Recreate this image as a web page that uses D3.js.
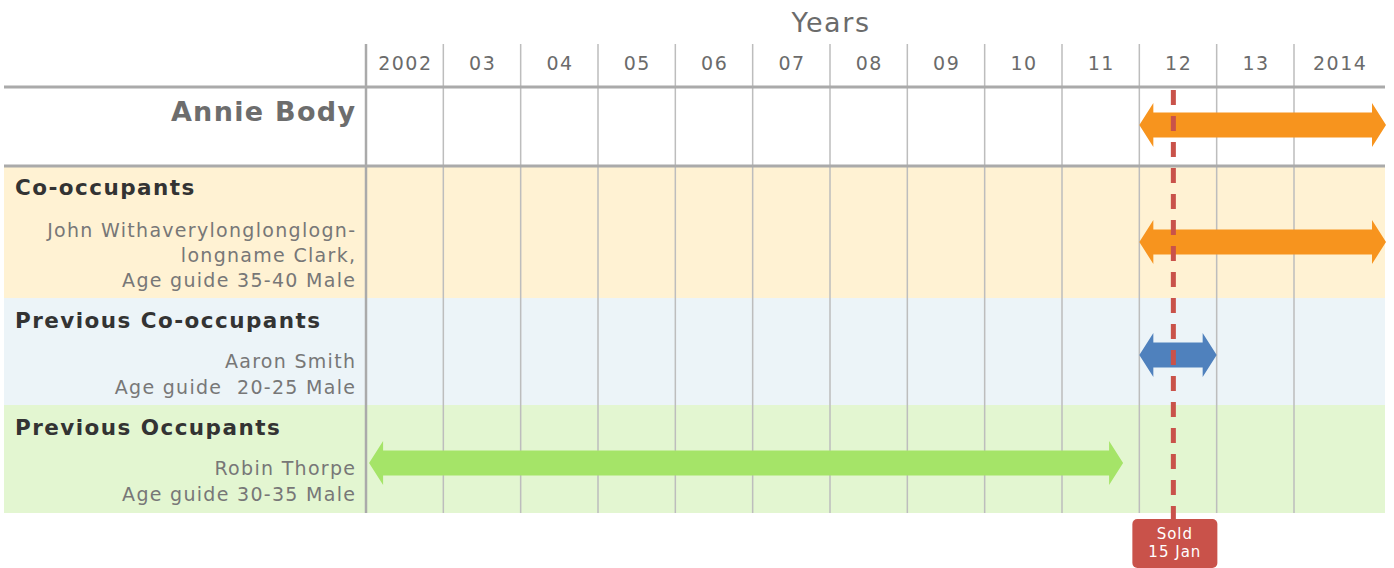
<!DOCTYPE html>
<html>
<head>
<meta charset="utf-8">
<script src="https://cdn.jsdelivr.net/npm/d3@7"></script>
<style>
  body { margin: 0; background: #fff; }
  svg { display: block; font-family: "DejaVu Sans", Verdana, sans-serif; }
</style>
</head>
<body>
<svg id="chart" width="1394" height="568"></svg>
<script>
// years shown as columns
const years = [2002, 2003, 2004, 2005, 2006, 2007, 2008, 2009, 2010, 2011, 2012, 2013, 2014];
const yearLabels = ['2002', '03', '04', '05', '06', '07', '08', '09', '10', '11', '12', '13', '2014'];

// row groups
const groupNames = ['', 'Co-occupants', 'Previous Co-occupants', 'Previous Occupants'];
const groupPeople = [
  ['Annie Body'],
  ['John Withaverylonglonglogn-', 'longname Clark,', 'Age guide 35-40 Male'],
  ['Aaron Smith', 'Age guide  20-25 Male'],
  ['Robin Thorpe', 'Age guide 30-35 Male']
];
// occupancy periods (end null = still ongoing)
const periodStart = [2012, 2012, 2012, 2002.04];
const periodEnd = [null, null, 2013, 2011.79];
const periodColors = ['#f7941e', '#f7941e', '#4f81bd', '#a5e468'];
const rowFills = ['#ffffff', '#fff2d3', '#ecf4f8', '#e3f6d1'];

// sale marker
const soldAt = 2012.44;
const soldLabel = ['Sold', '15 Jan'];

const svg = d3.select('#chart');
const left = 4, labelRight = 366, right = 1385;
const rowTops = [88, 167, 298, 405, 513];

const x = d3.scaleLinear().domain([2002, 2014]).range([labelRight, 1294]);
const colEnd = y => y === years[years.length - 1] ? right : x(y + 1);

// row backgrounds
svg.selectAll('.rowbg')
  .data(rowFills)
  .enter().append('rect')
  .attr('x', left)
  .attr('y', (d, i) => rowTops[i])
  .attr('width', right - left)
  .attr('height', (d, i) => rowTops[i + 1] - rowTops[i])
  .attr('fill', d => d);

// title
svg.append('text')
  .attr('x', x(2008) + 1)
  .attr('y', 32)
  .attr('text-anchor', 'middle')
  .attr('font-size', 27)
  .attr('letter-spacing', 1.6)
  .attr('fill', '#6b6b6b')
  .text('Years');

// year labels via axis
const axis = svg.append('g')
  .attr('transform', 'translate(0,70)')
  .call(d3.axisTop(d3.scaleLinear().domain(x.domain()).range(x.range()))
    .tickValues(years)
    .tickSize(0)
    .tickFormat((d, i) => yearLabels[i]));
axis.select('.domain').remove();
axis.selectAll('.tick')
  .attr('transform', d => `translate(${(x(d) + colEnd(d)) / 2 + 0.7},0)`);
axis.selectAll('text')
  .attr('dy', 0)
  .attr('y', 0)
  .attr('font-size', 19)
  .attr('letter-spacing', 1.5)
  .attr('font-family', '"DejaVu Sans", Verdana, sans-serif')
  .attr('fill', '#6b6b6b');

// vertical grid
svg.selectAll('.vgrid')
  .data(years.slice(1))
  .enter().append('line')
  .attr('x1', d => x(d)).attr('x2', d => x(d))
  .attr('y1', 44).attr('y2', 513)
  .attr('stroke', '#bdbdbd')
  .attr('stroke-width', 1.5);

svg.append('line')
  .attr('x1', labelRight).attr('x2', labelRight)
  .attr('y1', 44).attr('y2', 513)
  .attr('stroke', '#aaaaaa')
  .attr('stroke-width', 2.5);

// horizontal rules
[87, 166].forEach(yy => {
  svg.append('line')
    .attr('x1', left).attr('x2', right)
    .attr('y1', yy).attr('y2', yy)
    .attr('stroke', '#aaaaaa')
    .attr('stroke-width', 3);
});

// labels
const lineTops = [[121], [237, 262, 287], [368, 394], [475, 501]];
const headBase = [null, 195, 328, 435];

groupNames.forEach((name, i) => {
  if (name) {
    svg.append('text')
      .attr('x', 15).attr('y', headBase[i])
      .attr('font-size', 21.5)
      .attr('font-weight', 'bold')
      .attr('letter-spacing', 1.45)
      .attr('fill', '#333333')
      .text(name);
  }
  groupPeople[i].forEach((line, j) => {
    const ls = i === 0 ? 1.3 : 1.3;
    svg.append('text')
      .attr('x', 355 + ls).attr('y', lineTops[i][j])
      .attr('text-anchor', 'end')
      .attr('font-size', i === 0 ? 27 : 19)
      .attr('font-weight', i === 0 ? 'bold' : 'normal')
      .attr('letter-spacing', ls)
      .attr('fill', i === 0 ? '#6d6d6d' : '#777777')
      .style('white-space', 'pre')
      .text(line);
  });
});

// double arrows
const arrowY = [125, 242, 355, 463];
const shaft = 12.5, head = 22, headLen = 14;
function arrowPath(x0, x1, cy) {
  return [
    [x0, cy],
    [x0 + headLen, cy - head],
    [x0 + headLen, cy - shaft],
    [x1 - headLen, cy - shaft],
    [x1 - headLen, cy - head],
    [x1, cy],
    [x1 - headLen, cy + head],
    [x1 - headLen, cy + shaft],
    [x0 + headLen, cy + shaft],
    [x0 + headLen, cy + head]
  ];
}
svg.selectAll('.period')
  .data(periodStart)
  .enter().append('path')
  .attr('class', 'period')
  .attr('d', (d, i) => {
    const x0 = x(d);
    const x1 = periodEnd[i] === null ? right + 1 : x(periodEnd[i]);
    return d3.line()(arrowPath(x0, x1, arrowY[i])) + 'Z';
  })
  .attr('fill', (d, i) => periodColors[i]);

// sold marker
const sx = x(soldAt);
svg.append('line')
  .attr('x1', sx).attr('x2', sx)
  .attr('y1', 90).attr('y2', 520)
  .attr('stroke', '#c9524a')
  .attr('stroke-width', 5)
  .attr('stroke-dasharray', '15 11');

svg.append('rect')
  .attr('x', sx - 41).attr('y', 519)
  .attr('width', 85).attr('height', 49)
  .attr('rx', 5)
  .attr('fill', '#c9524a');

svg.selectAll('.soldtxt')
  .data(soldLabel)
  .enter().append('text')
  .attr('x', sx + 1.5)
  .attr('y', (d, i) => 539 + i * 18)
  .attr('text-anchor', 'middle')
  .attr('font-size', 15)
  .attr('letter-spacing', 1)
  .attr('fill', '#ffffff')
  .text(d => d);
</script>
</body>
</html>
